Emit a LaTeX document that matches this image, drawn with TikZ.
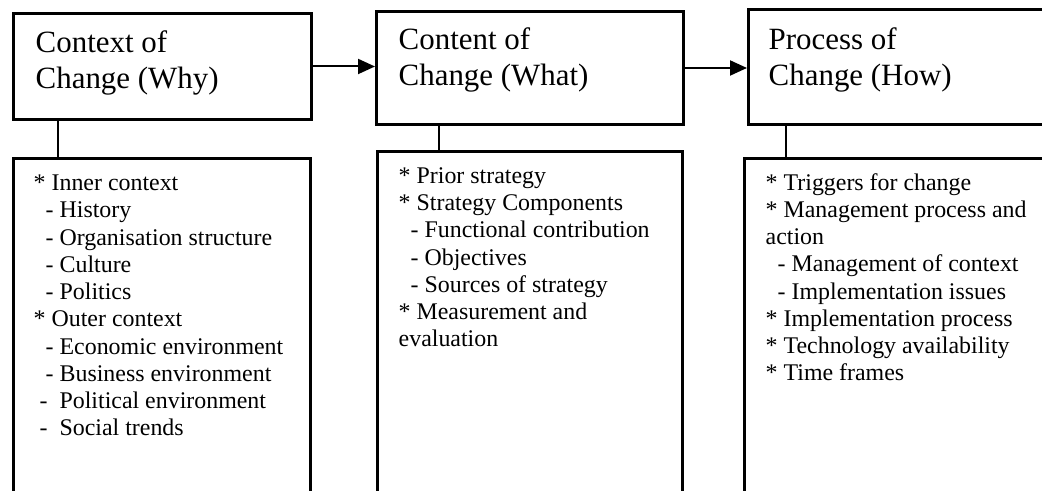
\documentclass[tikz,border=0pt]{standalone}
\usepackage{fontspec}
\setmainfont{Liberation Serif}
\usetikzlibrary{arrows.meta}

\begin{document}
\begin{tikzpicture}[
    box/.style={draw, line width=0.85pt, anchor=north west, inner sep=0},
    title/.style={anchor=base west, align=left, inner sep=0, font=\fontsize{8.8}{10.5}\selectfont},
    items/.style={anchor=base west, align=left, inner sep=0, font=\fontsize{6.8}{7.76}\selectfont},
    link/.style={line width=0.57pt},
    flow/.style={line width=0.57pt, -{Triangle[length=0.17cm, width=0.15cm]}}
]
    \useasboundingbox (0,0) rectangle (10.42,4.91);
    \clip (0,0) rectangle (10.42,4.91);

    \node [box, minimum width=2.98cm, minimum height=1.06cm] (why) at (0.12,4.79) {};
    \node [box, minimum width=3.07cm, minimum height=1.13cm] (what) at (3.75,4.81) {};
    \node [box, minimum width=3.3cm, minimum height=1.15cm] (how) at (7.47,4.83) {};

    \node [box, minimum width=2.97cm, minimum height=3.6cm] (whylist) at (0.12,3.34) {};
    \node [box, minimum width=3.05cm, minimum height=3.6cm] (whatlist) at (3.76,3.41) {};
    \node [box, minimum width=3.3cm, minimum height=3.6cm] (howlist) at (7.43,3.34) {};

    % base = last line
    \node [title] (whytitle) at (0.35,4.02) {Context of\\Change (Why)};
    \node [title] (whattitle) at (3.98,4.05) {Content of\\Change (What)};
    \node [title] (howtitle) at (7.68,4.05) {Process of\\Change (How)};

    \node [items] (whyitems) at (0.33,0.55) {* Inner context\\
        \hspace*{0.12cm}- History\\
        \hspace*{0.12cm}- Organisation structure\\
        \hspace*{0.12cm}- Culture\\
        \hspace*{0.12cm}- Politics\\
        * Outer context\\
        \hspace*{0.12cm}- Economic environment\\
        \hspace*{0.12cm}- Business environment\\
        \hspace*{0.06cm}-\ \ Political environment\\
        \hspace*{0.06cm}-\ \ Social trends};
    \node [items] (whatitems) at (3.98,1.44) {* Prior strategy\\
        * Strategy Components\\
        \hspace*{0.12cm}- Functional contribution\\
        \hspace*{0.12cm}- Objectives\\
        \hspace*{0.12cm}- Sources of strategy\\
        * Measurement and\\
        evaluation};
    \node [items] (howitems) at (7.65,1.10) {* Triggers for change\\
        * Management process and\\
        action\\
        \hspace*{0.12cm}- Management of context\\
        \hspace*{0.12cm}- Implementation issues\\
        * Implementation process\\
        * Technology availability\\
        * Time frames};

    \draw [flow] (why.east) -- (what.west |- why.east);
    \draw [flow] (what.east) -- (how.west |- what.east);

    \draw [link] ([xshift=0.46cm]why.south west) -- ([xshift=0.46cm]why.south west |- whylist.north);
    \draw [link] ([xshift=0.64cm]what.south west) -- ([xshift=0.64cm]what.south west |- whatlist.north);
    \draw [link] ([xshift=0.39cm]how.south west) -- ([xshift=0.39cm]how.south west |- howlist.north);
\end{tikzpicture}
\end{document}
